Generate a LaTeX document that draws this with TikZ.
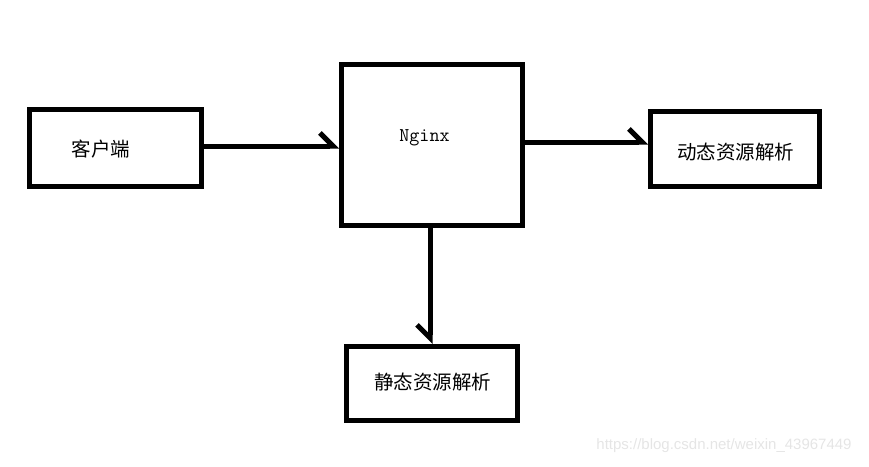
\documentclass[tikz,border=0pt]{standalone}
\usepackage{fontspec}
\newfontfamily\cjk{Noto Sans CJK SC}
\newfontfamily\wmfont{Liberation Sans}
\usetikzlibrary{arrows.meta}

\tikzset{
    box/.style={draw, line width=5pt, rectangle, inner sep=0pt},
    flow/.style={line width=5pt, -{Straight Barb[harpoon, length=13pt, width=26pt]}},
    flowswap/.style={line width=5pt, -{Straight Barb[harpoon, swap, length=13pt, width=26pt]}},
    cn/.style={font=\cjk\fontsize{19.5}{22}\selectfont},
}

\begin{document}
\begin{tikzpicture}[x=1pt, y=-1pt]
        \useasboundingbox (0,0) rectangle (869,466);

        \node[box, minimum width=172pt, minimum height=77pt] (client) at (115.5,148) {};
        \node[box, minimum width=181pt, minimum height=161pt] (nginx) at (432,145) {};
        \node[box, minimum width=169pt, minimum height=75pt] (dynamic) at (735,149) {};
        \node[box, minimum width=171pt, minimum height=74pt] (static) at (432,383.5) {};

        \node[cn] (clientlabel) at (101,149) {客户端};
        \node[font=\ttfamily\fontsize{19.5}{22}\selectfont] (nginxlabel) at (424.5,138) {Nginx};
        \node[cn] (dynamiclabel) at (735.5,152) {动态资源解析};
        \node[cn] (staticlabel) at (432.5,382) {静态资源解析};

        \draw[flow] ([yshift=2pt]client.east) -- ([yshift=2pt]client.east -| nginx.west);
        \draw[flow] ([yshift=3pt]nginx.east) -- ([yshift=3pt]nginx.east -| dynamic.west);
        \draw[flowswap] ([xshift=-2pt]nginx.south) -- ([xshift=-2pt]nginx.south |- static.north);

        \node[font=\wmfont\fontsize{15}{17}\selectfont, text=black!10] (mark) at (724,446) {https://blog.csdn.net/weixin\_43967449};
    \end{tikzpicture}
\end{document}
